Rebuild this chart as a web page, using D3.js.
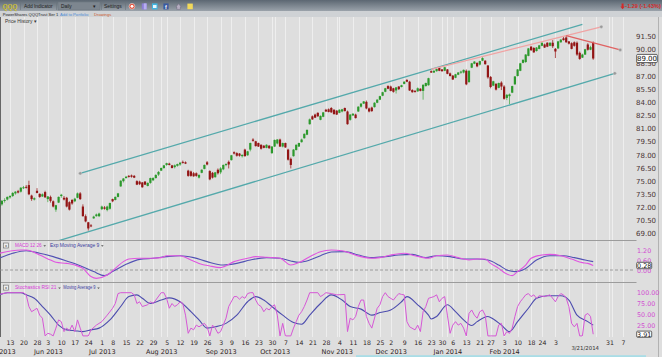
<!DOCTYPE html>
<html>
<head>
<meta charset="utf-8">
<script src="https://cdn.jsdelivr.net/npm/d3@7/dist/d3.min.js"></script>
<style>
html,body{margin:0;padding:0;background:#dedede;overflow:hidden}
svg{display:block}
</style>
</head>
<body>
<svg id="chart" width="662" height="357"></svg>
<script>
// ================= DATA =================
const symbol = "QQQ";
const firstDay = "2013-05-07";
const lastDay = "2014-04-11";
const holidays = ["2013-05-27","2013-07-04","2013-09-02","2013-11-28","2013-12-25","2014-01-01","2014-01-20","2014-02-17"];

// daily OHLC, 2013-05-07 .. 2014-03-21
const open = [
72.05,72.35,72.75,72.9,73.15,73.3,73.6,73.85,73.8,74.2,74.35,74.55,73.35,72.9,73.9,73.55,73.25,73.75,
72.95,73.2,72.7,71.75,72.55,73.3,73.1,73.1,72.6,72.85,72.7,73.1,73.6,72.1,71.0,70.3,69.95,70.75,71.0,71.0,
71.8,72.0,71.7,71.85,72.95,72.85,73.2,74.4,75.0,75.35,75.6,75.65,75.6,75.0,74.95,74.85,74.95,74.45,74.8,75.1,75.35,75.75,
76.2,76.5,76.85,77.0,76.8,76.6,76.75,76.9,77.2,77.15,76.2,76.1,75.9,75.9,75.4,75.95,76.4,77.15,76.15,75.95,75.45,76.3,
76.0,76.35,76.85,77.2,77.4,78.3,78.2,78.15,77.85,78.6,77.95,78.6,79.75,79.55,79.35,79.15,79.05,78.8,79.05,78.2,
78.95,79.3,79.75,78.95,79.35,78.6,77.55,77.85,78.55,78.95,79.45,79.9,80.3,81.5,82.4,82.6,82.8,82.0,82.35,83.15,83.2,83.35,83.15,
83.05,82.8,82.95,83.35,82.95,82.0,82.5,82.6,82.95,83.5,83.85,84.05,83.3,83.4,83.45,83.95,84.3,84.75,85.2,85.85,
85.8,85.6,85.35,85.8,85.75,86.1,86.55,86.35,85.4,85.3,85.25,85.55,85.3,85.85,85.95,87.55,87.4,87.55,87.95,87.75,87.6,
87.75,87.3,87.05,86.8,87.15,87.4,87.4,87.6,86.3,87.95,88.4,88.5,88.3,88.75,88.75,88.2,86.9,85.9,86.1,85.65,86.25,
85.8,84.5,84.7,85.1,86.05,87.0,87.6,88.5,88.6,89.3,90.35,90.2,89.85,90.1,90.45,90.6,90.8,90.45,90.8,
90.1,90.15,90.85,91.3,91.4,90.95,90.75,90.85,90.8,89.65,89.1,89.45,90.6,90.0,90.8
];
const high = [
72.4,72.85,73.05,73.25,73.4,73.75,73.85,74.0,74.3,74.45,74.55,75.05,73.45,73.15,74.2,73.6,73.6,73.9,
73.3,73.35,72.8,72.3,73.25,73.55,73.3,73.2,72.7,72.95,73.1,73.7,73.75,72.35,71.2,70.35,70.1,71.05,71.3,71.4,
72.2,72.15,72.2,72.55,73.0,73.25,73.65,75.1,75.35,75.6,75.7,75.75,75.7,75.1,75.05,74.9,75.0,74.85,75.4,75.45,75.8,76.15,
76.55,76.85,77.1,77.1,76.85,76.9,77.0,77.2,77.35,77.25,76.3,76.2,76.05,76.0,75.8,76.35,76.9,77.3,76.25,76.05,76.05,76.45,
76.6,76.9,77.05,77.35,78.0,78.4,78.3,78.2,78.05,78.7,78.45,79.4,79.9,79.6,79.4,79.2,79.1,79.2,79.1,79.0,
79.75,79.8,79.85,79.4,79.4,78.7,77.7,78.65,79.2,79.4,79.85,80.45,80.9,82.15,82.5,82.7,82.85,82.5,82.9,83.25,83.3,83.45,83.2,
83.1,83.2,83.25,83.4,83.05,82.65,82.75,82.7,83.55,83.9,84.15,84.2,83.4,83.5,84.0,84.35,84.75,85.2,85.65,85.95,
85.9,85.65,85.75,85.85,86.0,86.4,86.65,86.45,85.5,85.4,85.7,85.6,86.05,86.25,86.8,87.65,87.65,87.85,88.0,87.8,88.05,
87.8,87.4,87.1,87.25,87.45,87.6,87.75,87.75,87.65,88.5,88.7,88.55,88.75,89.15,88.8,88.25,87.0,86.45,86.2,86.25,86.4,
85.95,84.95,85.0,85.9,87.0,87.8,88.5,88.9,89.5,90.2,90.45,90.3,90.3,90.55,90.85,90.7,90.85,90.85,91.1,
90.2,91.0,91.2,91.45,91.65,91.0,90.85,90.95,90.95,89.8,89.55,90.1,90.75,90.45,90.95
];
const low = [
71.95,72.2,72.55,72.8,73.0,73.2,73.45,73.6,73.7,74.1,74.15,73.4,72.75,72.8,73.6,73.1,73.2,73.1,
72.6,72.55,72.0,71.5,72.5,73.1,72.8,72.0,71.65,72.3,72.6,73.05,72.85,70.95,70.3,69.35,69.75,70.7,70.95,70.9,
71.7,71.75,71.55,71.75,72.6,72.8,73.15,74.35,74.85,75.3,75.4,75.4,75.35,74.55,74.55,74.25,74.55,74.4,74.7,75.0,75.3,75.6,
76.15,76.4,76.75,76.8,76.45,76.45,76.65,76.75,77.0,76.95,75.5,75.5,75.5,75.5,75.3,75.9,76.35,76.8,75.1,75.3,75.4,75.75,
75.8,76.25,76.7,76.45,77.35,78.05,77.8,77.8,77.7,77.8,77.9,78.4,79.5,78.95,78.9,78.6,78.75,78.75,78.7,78.1,
78.9,79.2,78.9,78.85,78.8,77.35,76.45,77.8,78.5,78.9,79.4,79.85,80.25,81.45,82.0,82.2,82.35,81.95,82.3,82.9,82.85,82.8,82.6,
82.55,82.75,82.85,82.95,81.45,81.9,82.45,82.15,82.9,83.4,83.8,83.2,82.85,82.9,83.4,83.9,84.25,84.7,85.15,85.5,
85.25,85.1,85.0,85.4,85.7,86.05,86.3,85.3,85.1,85.1,85.2,85.25,84.3,85.8,85.9,87.35,87.35,87.5,87.55,87.5,87.55,
87.2,86.95,86.55,86.75,87.1,87.25,87.3,85.95,86.25,87.9,88.35,88.0,88.2,88.7,88.3,86.7,85.6,85.85,85.35,85.6,85.4,
84.3,84.25,83.8,85.05,86.0,86.95,87.55,88.45,88.5,89.25,89.85,89.65,89.8,90.05,90.4,90.2,90.3,90.4,90.2,
89.05,90.1,90.8,91.05,90.8,90.6,90.05,90.35,89.3,88.85,89.05,89.4,89.9,89.95,88.85
];
const close = [
72.3,72.75,72.85,73.2,73.3,73.65,73.8,73.7,74.25,74.3,74.3,73.5,72.95,73.05,73.65,73.2,73.5,73.15,
73.25,72.75,72.1,72.25,73.2,73.45,72.9,72.1,71.75,72.45,73.0,73.6,72.95,71.0,70.4,69.6,69.85,70.95,71.2,71.3,
72.1,71.85,72.1,72.5,72.7,73.2,73.6,75.05,75.3,75.5,75.55,75.5,75.4,74.6,74.65,74.3,74.6,74.8,75.35,75.35,75.7,76.05,
76.5,76.8,77.05,76.85,76.5,76.8,76.95,77.1,77.15,77.0,75.6,75.6,75.55,75.6,75.7,76.3,76.85,76.9,75.2,75.4,76.0,75.9,
76.45,76.85,76.95,76.9,77.95,78.15,77.9,77.9,78.0,77.85,78.4,79.35,79.6,79.0,78.95,78.7,78.8,79.15,78.75,78.95,
79.7,79.75,78.95,79.35,78.85,77.45,76.85,78.6,79.15,79.35,79.75,80.4,80.85,82.05,82.05,82.25,82.4,82.45,82.85,82.95,82.9,82.85,82.65,
82.6,83.15,83.2,83.0,81.5,82.6,82.7,82.2,83.5,83.85,84.1,83.3,82.95,83.0,83.95,84.3,84.7,85.15,85.6,85.55,
85.3,85.2,85.7,85.5,85.95,86.35,86.35,85.35,85.15,85.2,85.6,85.3,86.0,86.2,86.75,87.4,87.6,87.8,87.6,87.55,88.0,
87.25,87.0,86.6,87.2,87.4,87.5,87.7,86.05,87.6,88.45,88.65,88.1,88.7,89.05,88.35,86.85,85.75,86.4,85.45,86.2,85.8,
84.4,84.85,84.9,85.85,86.95,87.75,88.45,88.85,89.45,90.15,89.95,89.7,90.25,90.5,90.8,90.25,90.35,90.8,90.4,
89.8,90.95,91.15,91.1,90.85,90.7,90.1,90.45,89.45,88.95,89.45,90.05,90.0,90.29,89.0
];

// MACD 12 26 and its Exp Moving Average 9 (trading-day index, value)
const macdDay = [0,8,10,15,19,21,25,28,31,34,36,40,43,46,48,52,56,60,62,67,71,74,78,82,87,92,95,99,104,108,111,115,119,123,127,130,134,138,141,145,150,154,159,162,166,170,174,177,180,182,185,187,190,192,195,197,201,204,208,212,216,218,220];
const macdValue = [1.04,1.24,1.24,0.93,0.62,0.48,0.41,0.31,0.10,-0.41,-0.52,-0.31,0.10,0.52,0.68,0.73,0.73,0.77,0.89,0.89,0.62,0.41,0.25,0.15,0.52,0.73,0.83,0.79,0.73,0.31,0.46,0.83,1.14,1.24,1.20,1.04,0.83,0.73,0.77,0.93,1.04,0.89,0.73,0.89,0.93,0.77,0.62,0.68,0.68,0.41,0.10,-0.15,-0.35,-0.10,0.31,0.73,0.93,0.97,0.89,0.68,0.46,0.41,0.28];
const signalDay = [0,5,10,15,20,25,30,35,39,42,47,52,57,62,67,72,77,83,88,93,99,104,108,111,115,119,123,128,133,138,143,148,153,158,162,167,172,177,181,185,188,191,195,199,204,209,213,217,220];
const signalValue = [0.73,1.04,1.20,1.04,0.83,0.56,0.27,-0.10,-0.35,-0.10,0.35,0.66,0.73,0.83,0.89,0.77,0.52,0.31,0.41,0.62,0.77,0.73,0.56,0.48,0.62,0.89,1.12,1.14,0.93,0.77,0.83,0.93,0.97,0.77,0.89,0.83,0.68,0.68,0.62,0.31,0.0,-0.10,0.10,0.62,0.89,0.89,0.77,0.62,0.52];

// Stochastics RSI 21 and its Moving Average 9
const stochDay = [0,3,8,9,10,11,12,13,14,15,16,17,18,19,20,21,22,23,24,25,26,27,28,29,30,31,33,34,36,38,40,42,43,44,45,49,50,51,52,53,55,56,57,58,60,61,62,63,64,65,66,67,68,69,70,71,72,73,74,76,77,78,79,80,81,82,84,85,87,88,89,90,91,92,93,94,95,96,97,98,99,100,101,102,103,104,105,106,108,109,110,111,112,113,114,115,118,119,120,121,123,125,128,129,130,131,132,133,134,135,136,137,138,140,141,142,143,144,146,147,148,149,150,151,152,154,155,156,157,158,159,161,162,163,164,165,166,167,168,169,170,171,172,173,174,175,176,177,178,179,180,181,182,184,185,186,187,188,189,190,191,192,193,194,195,196,197,198,199,200,202,203,204,206,207,208,209,210,211,212,213,214,215,216,217,218,219,220];
const stochValue = [96,100,100,100,95,68,56,60,64,48,41,0,6,4,0,18,37,33,10,18,12,25,10,37,18,0,0,14,25,33,48,64,75,98,100,100,95,75,79,68,72,79,75,83,100,100,87,64,75,68,72,79,75,48,6,18,14,25,21,29,21,0,25,18,6,10,41,68,91,91,85,91,87,98,100,100,83,72,68,56,64,60,68,72,48,0,29,0,0,18,33,48,56,68,83,100,100,91,95,100,98,95,96,10,41,37,45,68,83,83,45,29,18,64,72,91,100,91,83,91,98,96,95,33,21,14,25,10,56,68,87,91,95,79,87,91,48,6,25,33,25,29,18,0,52,60,48,41,56,60,48,0,0,0,25,29,0,10,6,18,45,68,79,87,95,98,91,95,87,93,91,93,95,79,91,98,95,87,68,29,21,29,0,0,48,52,45,3.91];
const stochMaDay = [0,3,8,10,13,16,19,22,25,28,31,34,37,41,45,48,51,53,56,60,63,67,71,74,77,80,84,88,92,95,98,101,105,109,112,115,119,123,127,130,134,138,141,145,149,151,155,159,160,162,166,169,172,175,177,181,183,186,189,192,196,199,203,208,211,214,218,220];
const stochMaValue = [95,100,100,95,87,68,48,25,14,12,10,14,18,37,68,91,95,87,75,83,88,79,56,37,18,21,29,48,79,91,83,68,48,31,27,48,75,95,83,68,62,48,54,60,79,91,72,48,39,45,72,56,37,24,33,45,39,25,10,33,64,87,93,93,83,48,33,25];

// drawn trend lines (date, price)
const upperChannelDates = ["2013-06-19","2014-03-17"], upperChannelPrices = [75.89, 92.90];
const lowerChannelDates = ["2013-06-07","2014-04-02"], lowerChannelPrices = [68.20, 87.31];
const pinkLineDates = ["2013-12-23","2014-03-26"], pinkLinePrices = [87.76, 92.62];
const redLineDates = ["2014-03-07","2014-04-04"], redLinePrices = [91.62, 89.98];

// axes
const priceTicks = [69.0,70.5,72.0,73.5,75.0,76.5,78.0,79.5,81.0,82.5,84.0,85.5,87.0,88.5,90.0,91.5];
const macdTicks = [0.0,0.6,1.2];
const stochTicks = [25,50,75,100];
const weekTickDates = ["2013-05-13","2013-05-20","2013-05-28","2013-06-03","2013-06-10","2013-06-17","2013-06-24","2013-07-01","2013-07-08","2013-07-15","2013-07-22","2013-07-29","2013-08-05","2013-08-12","2013-08-19","2013-08-26","2013-09-03","2013-09-09","2013-09-16","2013-09-23","2013-09-30","2013-10-07","2013-10-14","2013-10-21","2013-10-28","2013-11-04","2013-11-11","2013-11-18","2013-11-25","2013-12-02","2013-12-09","2013-12-16","2013-12-23","2013-12-30","2014-01-06","2014-01-13","2014-01-21","2014-01-27","2014-02-03","2014-02-10","2014-02-18","2014-02-24","2014-03-03","2014-03-31","2014-04-07"];
const monthTickDates = ["2013-05-07","2013-06-03","2013-07-01","2013-08-01","2013-09-03","2013-10-01","2013-11-01","2013-12-02","2014-01-02","2014-02-03"];
const monthTickLabels = ["May 2013","Jun 2013","Jul 2013","Aug 2013","Sep 2013","Oct 2013","Nov 2013","Dec 2013","Jan 2014","Feb 2014"];
const currentDateLabel = "3/21/2014";
const changeText = "-1.29 (-1.43%)";
const lastMacdText = "0.28", lastStochText = "3.91";

// ================= DRAWING =================
const svg = d3.select("#chart");
const W = 662, H = 357;
const plotRight = 635;
const mainTop = 17, mainBottom = 240, macdBottom = 282, stochBottom = 337;
const AX = "DejaVu Sans", HD = "Liberation Sans";

const parseDate = d3.utcParse("%Y-%m-%d"), fmtDate = d3.utcFormat("%Y-%m-%d");
const holidaySet = new Set(holidays);
const tradingDays = d3.utcDays(parseDate(firstDay), d3.utcDay.offset(parseDate(lastDay), 1))
  .filter(d => d.getUTCDay() % 6 !== 0 && !holidaySet.has(fmtDate(d)));
const dayIndex = new Map(tradingDays.map((d, i) => [fmtDate(d), i]));
const idx = s => dayIndex.get(s);

const x = d3.scaleLinear().domain([idx("2013-05-13"), idx("2014-03-21")]).range([10, 593.2]);
const y = d3.scaleLinear().domain([69, 91.5]).range([233.7, 36.6]);
const ym = d3.scaleLinear().domain([0, 1.2]).range([270, 250.7]);
const ys = d3.scaleLinear().domain([0, 100]).range([335.9, 292.7]);

const defs = svg.append("defs");
const tb = defs.append("linearGradient").attr("id", "tb").attr("x1", 0).attr("y1", 0).attr("x2", 0).attr("y2", 1);
tb.append("stop").attr("offset", 0).attr("stop-color", "#5c6772");
tb.append("stop").attr("offset", 1).attr("stop-color", "#9aa2aa");
[["clipMain", mainTop, mainBottom], ["clipMacd", mainBottom, macdBottom], ["clipStoch", macdBottom, stochBottom]]
  .forEach(([id, y0, y1]) => defs.append("clipPath").attr("id", id).append("rect")
    .attr("x", 0).attr("y", y0).attr("width", plotRight).attr("height", y1 - y0));

svg.append("rect").attr("width", W).attr("height", H).attr("fill", "#dedede");

// ---- vertical grid (first trading day of each week / month) ----
const gridIdx = [];
tradingDays.forEach((d, i) => {
  if (i === 0) return;
  const p = tradingDays[i - 1];
  if (d3.utcMonday.floor(d) > p || d.getUTCMonth() !== p.getUTCMonth()) gridIdx.push(i);
});
svg.append("g").selectAll("line").data(gridIdx.filter(i => x(i) < 626)).join("line")
  .attr("x1", d => Math.round(x(d)) + 0.5).attr("x2", d => Math.round(x(d)) + 0.5)
  .attr("y1", mainTop).attr("y2", stochBottom)
  .attr("stroke", "#eeeeee").attr("stroke-width", 1);

// ---- panel separators / borders ----
[mainBottom, macdBottom].forEach(v => svg.append("line").attr("x1", 0).attr("x2", plotRight + 1.5)
  .attr("y1", v + 0.5).attr("y2", v + 0.5).attr("stroke", "#9c9c9c"));
svg.append("line").attr("x1", 0.5).attr("x2", 0.5).attr("y1", mainTop).attr("y2", stochBottom).attr("stroke", "#666");
svg.append("line").attr("x1", 658.5).attr("x2", 658.5).attr("y1", mainTop).attr("y2", H).attr("stroke", "#b2b2b2");

// ---- candles ----
const cd = close.map((c, i) => ({ i, o: open[i], h: high[i], l: low[i], c }));
const cg = svg.append("g").attr("clip-path", "url(#clipMain)");
cg.selectAll("line").data(cd).join("line")
  .attr("x1", d => x(d.i)).attr("x2", d => x(d.i))
  .attr("y1", d => y(d.h)).attr("y2", d => y(d.l))
  .attr("stroke", d => d.c >= d.o ? "#5fb25f" : "#a83c3c").attr("stroke-width", 0.9);
cg.selectAll("rect").data(cd).join("rect")
  .attr("x", d => x(d.i) - 1.1).attr("width", 2.2)
  .attr("y", d => y(Math.max(d.o, d.c)))
  .attr("height", d => Math.max(1, Math.abs(y(d.o) - y(d.c))))
  .attr("fill", d => d.c >= d.o ? "#2c982c" : "#921515");

// ---- trend lines ----
const trend = [
  { d: upperChannelDates, p: upperChannelPrices, color: "#54a9ab", dots: [0] },
  { d: lowerChannelDates, p: lowerChannelPrices, color: "#54a9ab", dots: [1] },
  { d: pinkLineDates, p: pinkLinePrices, color: "#f0a3a3", dots: [1] },
  { d: redLineDates, p: redLinePrices, color: "#e06262", dots: [1] }
];
const tg = svg.append("g").attr("clip-path", "url(#clipMain)");
trend.forEach(t => {
  const pts = t.d.map((s, k) => [x(idx(s)), y(t.p[k])]);
  tg.append("path").attr("d", d3.line()(pts)).attr("fill", "none").attr("stroke", t.color).attr("stroke-width", 1.3);
  t.dots.forEach(k => tg.append("circle").attr("cx", pts[k][0]).attr("cy", pts[k][1]).attr("r", 1.6)
    .attr("fill", "#9a9a9a").attr("stroke", "#d8d8d8").attr("stroke-width", 0.4));
});

// ---- price axis ----
const yAxisG = svg.append("g").attr("transform", "translate(636,0)")
  .call(d3.axisRight(y).tickValues(priceTicks).tickFormat(d3.format(".2f")).tickSize(0).tickPadding(0));
yAxisG.select(".domain").remove();
yAxisG.attr("font-family", AX).attr("font-size", 7);
yAxisG.selectAll("text").attr("fill", "#4a3434");

function valueBox(cx, cy, w, h, s, fs) {
  svg.append("rect").attr("x", cx).attr("y", cy - h / 2).attr("width", w).attr("height", h)
    .attr("fill", "#fff").attr("stroke", "#3a3a3a").attr("stroke-width", 0.8).attr("rx", 1);
  svg.append("text").attr("x", cx + w / 2).attr("y", cy + fs * 0.36).attr("text-anchor", "middle")
    .attr("font-family", AX).attr("font-size", fs).attr("fill", "#111").text(s);
}
valueBox(636.7, y(close[close.length - 1]), 20.6, 8.2, d3.format(".2f")(close[close.length - 1]), 7);

// ---- MACD panel ----
const mg = svg.append("g").attr("clip-path", "url(#clipMacd)");
mg.append("line").attr("x1", 0).attr("x2", plotRight).attr("y1", ym(0)).attr("y2", ym(0))
  .attr("stroke", "#8a8a8a").attr("stroke-dasharray", "3,2").attr("stroke-width", 0.8);
const lineM = d3.line().x(d => x(d[0])).y(d => ym(d[1])).curve(d3.curveMonotoneX);
mg.append("path").attr("d", lineM(signalDay.map((d, i) => [d, signalValue[i]])))
  .attr("fill", "none").attr("stroke", "#5252b4").attr("stroke-width", 1.1);
mg.append("path").attr("d", lineM(macdDay.map((d, i) => [d, macdValue[i]])))
  .attr("fill", "none").attr("stroke", "#e055e0").attr("stroke-width", 1.1);
const maxis = svg.append("g").attr("transform", "translate(637,0)")
  .call(d3.axisRight(ym).tickValues(macdTicks).tickFormat(d3.format(".2f")).tickSize(0).tickPadding(0));
maxis.select(".domain").remove();
maxis.attr("font-family", AX).attr("font-size", 6.4);
maxis.selectAll("text").attr("fill", "#d24cd2");
valueBox(636.7, ym(0.28), 15, 6.4, lastMacdText, 6.4);

// ---- Stochastics panel ----
const sg = svg.append("g").attr("clip-path", "url(#clipStoch)");
sg.append("path").attr("d", d3.line().x(d => x(d[0])).y(d => ys(d[1])).curve(d3.curveMonotoneX)(stochMaDay.map((d, i) => [d, stochMaValue[i]])))
  .attr("fill", "none").attr("stroke", "#4c4cae").attr("stroke-width", 1.1);
sg.append("path").attr("d", d3.line().x(d => x(d[0])).y(d => ys(d[1]))(stochDay.map((d, i) => [d, stochValue[i]])))
  .attr("fill", "none").attr("stroke", "#d658d6").attr("stroke-width", 1);
const saxis = svg.append("g").attr("transform", "translate(637,0)")
  .call(d3.axisRight(ys).tickValues(stochTicks).tickFormat(d3.format(".2f")).tickSize(0).tickPadding(0));
saxis.select(".domain").remove();
saxis.attr("font-family", AX).attr("font-size", 6.4);
saxis.selectAll("text").attr("fill", "#d24cd2");
valueBox(636.7, ys(3.91), 15, 6.2, lastStochText, 6.4);

// ---- date axis ----
const xw = svg.append("g").attr("transform", "translate(0,338)")
  .call(d3.axisBottom(x).tickValues(weekTickDates.map(idx)).tickFormat(i => d3.utcFormat("%-d")(tradingDays[i])).tickSize(0).tickPadding(3));
xw.select(".domain").remove();
xw.attr("font-family", AX).attr("font-size", 6.2);
xw.selectAll("text").attr("fill", "#2e2424");
const xmo = svg.append("g").attr("transform", "translate(0,346.5)")
  .call(d3.axisBottom(x).tickValues(monthTickDates.map(idx)).tickFormat((d, i) => monthTickLabels[i]).tickSize(0).tickPadding(3));
xmo.select(".domain").remove();
xmo.attr("font-family", AX).attr("font-size", 6.5);
xmo.selectAll("text").attr("fill", "#2e2424");
svg.append("text").attr("x", x(idx("2014-03-21")) - 8).attr("y", 349.6).attr("text-anchor", "middle")
  .attr("font-family", AX).attr("font-size", 5.4).attr("fill", "#333").text(currentDateLabel);
svg.append("rect").attr("x", 356).attr("y", 355.2).attr("width", 290).attr("height", 1.8).attr("fill", "#a9dde6");

// ---- toolbar ----
function t(xp, yp, s, size, fill, len, extra) {
  const e = svg.append("text").attr("x", xp).attr("y", yp).attr("font-family", HD).attr("font-size", size).attr("fill", fill).text(s);
  if (len) e.attr("textLength", len).attr("lengthAdjust", "spacingAndGlyphs");
  if (extra) extra(e);
  return e;
}
svg.append("rect").attr("x", 0).attr("y", 0).attr("width", W).attr("height", 11).attr("fill", "url(#tb)");
svg.append("rect").attr("x", 0).attr("y", 11).attr("width", W).attr("height", 6).attr("fill", "#cfd2d5");
svg.append("rect").attr("x", 58).attr("y", 2).attr("width", 42).attr("height", 8).attr("fill", "#7d868f").attr("stroke", "#6a737c").attr("stroke-width", 0.5);
[20.5, 56.5, 101.5, 125.5].forEach(v => svg.append("line").attr("x1", v).attr("x2", v).attr("y1", 2).attr("y2", 10).attr("stroke", "#6a737c").attr("stroke-width", 0.6));
t(2.7, 9, symbol, 6.6, "#f3e649", 14.6, e => e.attr("font-weight", "bold").attr("stroke", "#6b6530").attr("stroke-width", 0.25));
t(24, 8.4, "Add Indicator", 5, "#1c1c1c", 28.7);
t(61, 8.4, "Daily", 5, "#1c1c1c", 10.7);
t(92.5, 8.4, "▾", 5, "#1c1c1c");
t(104, 8.4, "Settings", 5, "#1c1c1c", 17.7);
// icons
svg.append("circle").attr("cx", 132).attr("cy", 6.3).attr("r", 2.9).attr("fill", "#e0452e").attr("stroke", "#f4f4f4").attr("stroke-width", 0.5);
svg.append("circle").attr("cx", 132).attr("cy", 6.3).attr("r", 1.5).attr("fill", "#fff");
svg.append("rect").attr("x", 141.8).attr("y", 3.4).attr("width", 4.8).attr("height", 6).attr("fill", "#8c7fd6");
svg.append("rect").attr("x", 143.8).attr("y", 3.4).attr("width", 2.8).attr("height", 6).attr("fill", "#b7adf0");
svg.append("rect").attr("x", 152).attr("y", 3.4).attr("width", 5.5).attr("height", 6).attr("fill", "#42b6e2");
svg.append("rect").attr("x", 153).attr("y", 5).attr("width", 3.5).attr("height", 3).attr("fill", "#e8f7fd");
svg.append("rect").attr("x", 163.4).attr("y", 3.4).attr("width", 5.2).attr("height", 6).attr("fill", "#3b5aa0");
t(165, 9, "f", 5.5, "#fff", null, e => e.attr("font-weight", "bold"));
svg.append("path").attr("d", "M176,7 L178.6,3.8 L181.2,7 L180.4,7 L180.4,9.4 L176.8,9.4 L176.8,7 Z").attr("fill", "#b4adc0").attr("stroke", "#6a6078").attr("stroke-width", 0.4);
svg.append("rect").attr("x", 187.4).attr("y", 3.6).attr("width", 5.4).attr("height", 5.6).attr("fill", "#f2d95a");
// change
svg.append("path").attr("d", "M621.6,3.6 L623.6,3.6 L623.6,6.4 L624.8,6.4 L622.6,9.2 L620.4,6.4 L621.6,6.4 Z").attr("fill", "#d42a2a");
t(625.3, 8.4, changeText, 4.8, "#d42a2a", 35.5, e => e.attr("font-weight", "bold"));
// row 2
t(2.7, 15.8, "PowerShares QQQTrust Ser 1", 4.1, "#1f1f1f", 55.6);
t(60, 15.8, "Add to Portfolio", 4.1, "#4d8fd8", 28.3);
t(94, 15.8, "Drawings", 4.1, "#cc5a2a", 17.3);
t(5, 22.8, "Price History ▾", 4.8, "#333", 31.7);

// ---- panel headers (dropdown marks drawn as small triangles) ----
function caret(cx, cy) {
  svg.append("path").attr("d", `M${cx - 1.3},${cy - 0.7} L${cx + 1.3},${cy - 0.7} L${cx},${cy + 0.8} Z`).attr("fill", "#555");
}
function header(yc, nameA, lenA, nameB, xB, lenB) {
  svg.append("rect").attr("x", 3.5).attr("y", yc - 2.6).attr("width", 5).attr("height", 5)
    .attr("fill", "#ececec").attr("stroke", "#666").attr("stroke-width", 0.6);
  t(6, yc + 1.5, "x", 4, "#333", null, e => e.attr("text-anchor", "middle"));
  t(15, yc + 1.7, nameA, 4.8, "#d93ad9", lenA);
  caret(15 + lenA + 3, yc + 0.4);
  t(xB, yc + 1.7, nameB, 4.8, "#3d3d9e", lenB);
  caret(xB + lenB + 3, yc + 0.4);
}
header(245.6, "MACD 12 26", 26.7, "Exp Moving Average 9", 50, 49.3);
header(287.7, "Stochastics RSI 21", 41.5, "Moving Average 9", 63.3, 32.2);
</script>
</body>
</html>
